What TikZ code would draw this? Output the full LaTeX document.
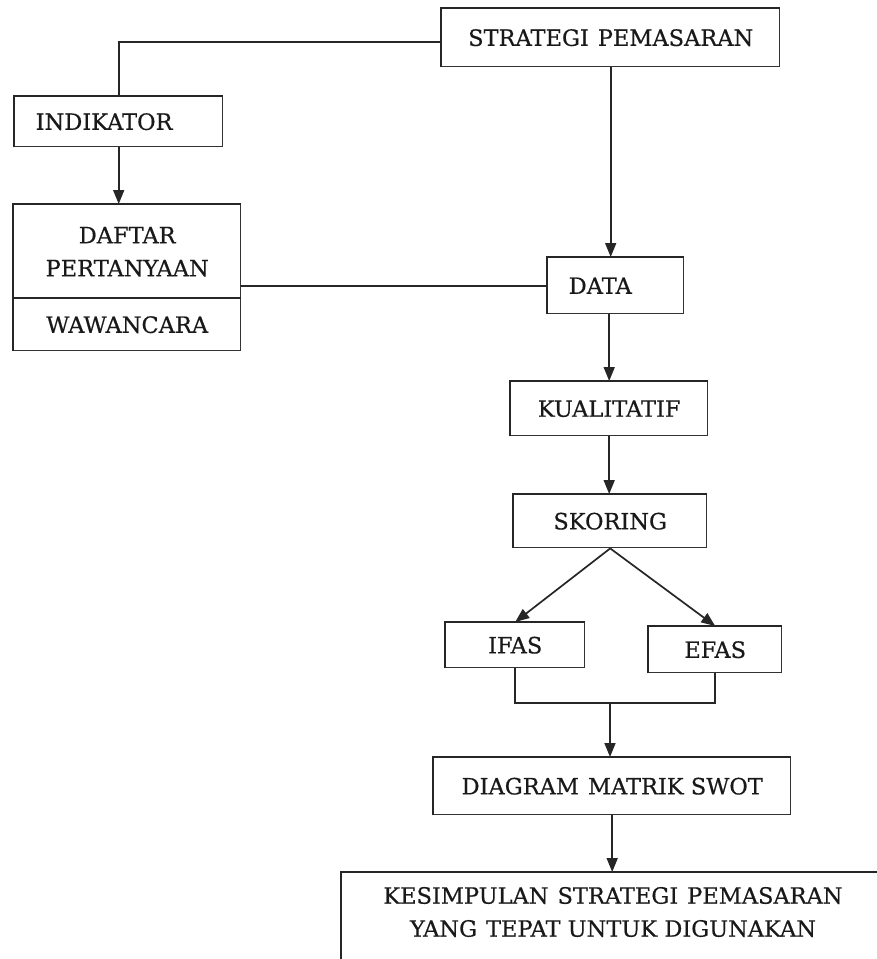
\documentclass[tikz,border=0pt]{standalone}
\usepackage{fontspec}
\setmainfont{DejaVu Serif}[FakeBold=0.5]
\usetikzlibrary{arrows.meta,calc}
\newcommand\wsp{\hspace{9pt}}
\newcommand\tlbar[1]{\draw[line width=2.8pt, draw=black!85] (#1.south west) -- (#1.north west) -- (#1.north east);}
\begin{document}
\begin{tikzpicture}[x=1pt,y=-1pt,
  every node/.style={font=\fontsize{22.5}{33}\selectfont, text=black!90},
  bx/.style={draw=black!80, line width=1.4pt, rectangle, inner sep=0pt, anchor=north west},
  lin/.style={draw=black!85, line width=1.7pt},
  arr/.style={lin, -{Triangle[length=14pt,width=11pt]}}
]
\useasboundingbox (0,0) rectangle (876,959);
\fill[white] (0,0) rectangle (876,959);

\node[bx, minimum width=338pt, minimum height=58pt] (strat) at (441,8) {STRATEGI\wsp PEMASARAN};
\node[bx, minimum width=208pt, minimum height=50pt, text width=166pt, inner xsep=21pt, align=left] (indik) at (14,96) {INDIKATOR};
\node[bx, minimum width=227pt, minimum height=94pt, align=center] (daftar) at (13,204) {DAFTAR\\PERTANYAAN};
\node[bx, minimum width=227pt, minimum height=52pt] (wawan) at (13,298) {WAWANCARA};
\node[bx, minimum width=136pt, minimum height=56pt, text width=94pt, inner xsep=21pt, align=left] (data) at (547,257) {DATA};
\node[bx, minimum width=197pt, minimum height=54pt] (kual) at (510,381) {KUALITATIF};
\node[bx, minimum width=193pt, minimum height=53pt] (skor) at (513,494) {SKORING};
\node[bx, minimum width=139pt, minimum height=45pt] (ifas) at (445,622) {IFAS};
\node[bx, minimum width=133pt, minimum height=46pt] (efas) at (648,626) {EFAS};
\node[bx, minimum width=357pt, minimum height=57pt] (diag) at (433,757) {DIAGRAM\wsp MATRIK SWOT};
\node[bx, minimum width=545pt, minimum height=110pt] (kes) at (341,872) {};
\node[align=center, inner sep=0pt] (kestext) at (613,912) {KESIMPULAN\wsp STRATEGI\wsp PEMASARAN\\YANG\wsp TEPAT UNTUK DIGUNAKAN};

\tlbar{strat}
\tlbar{indik}
\tlbar{daftar}
\tlbar{wawan}
\tlbar{data}
\tlbar{kual}
\tlbar{skor}
\tlbar{ifas}
\tlbar{efas}
\tlbar{diag}
\tlbar{kes}

\draw[lin] ([yshift=-4pt]strat.west) -| (indik.north);
\draw[arr] (indik.south) -- (indik.south |- daftar.north);
\draw[lin] (data.west) -- (data.west -| daftar.east);
\draw[arr] (strat.south) -- (strat.south |- data.north);
\draw[arr] (kual.north |- data.south) -- (kual.north);
\draw[arr] (kual.south) -- (kual.south |- skor.north);
\draw[arr] (skor.south) -- (ifas.north);
\draw[arr] (skor.south) -- (efas.north);
\coordinate (join) at (610,703);
\draw[lin] (ifas.south) |- (join) -| (efas.south);
\draw[arr] (join) -- (join |- diag.north);
\draw[arr] (diag.south) -- (diag.south |- kes.north);
\end{tikzpicture}
\end{document}
